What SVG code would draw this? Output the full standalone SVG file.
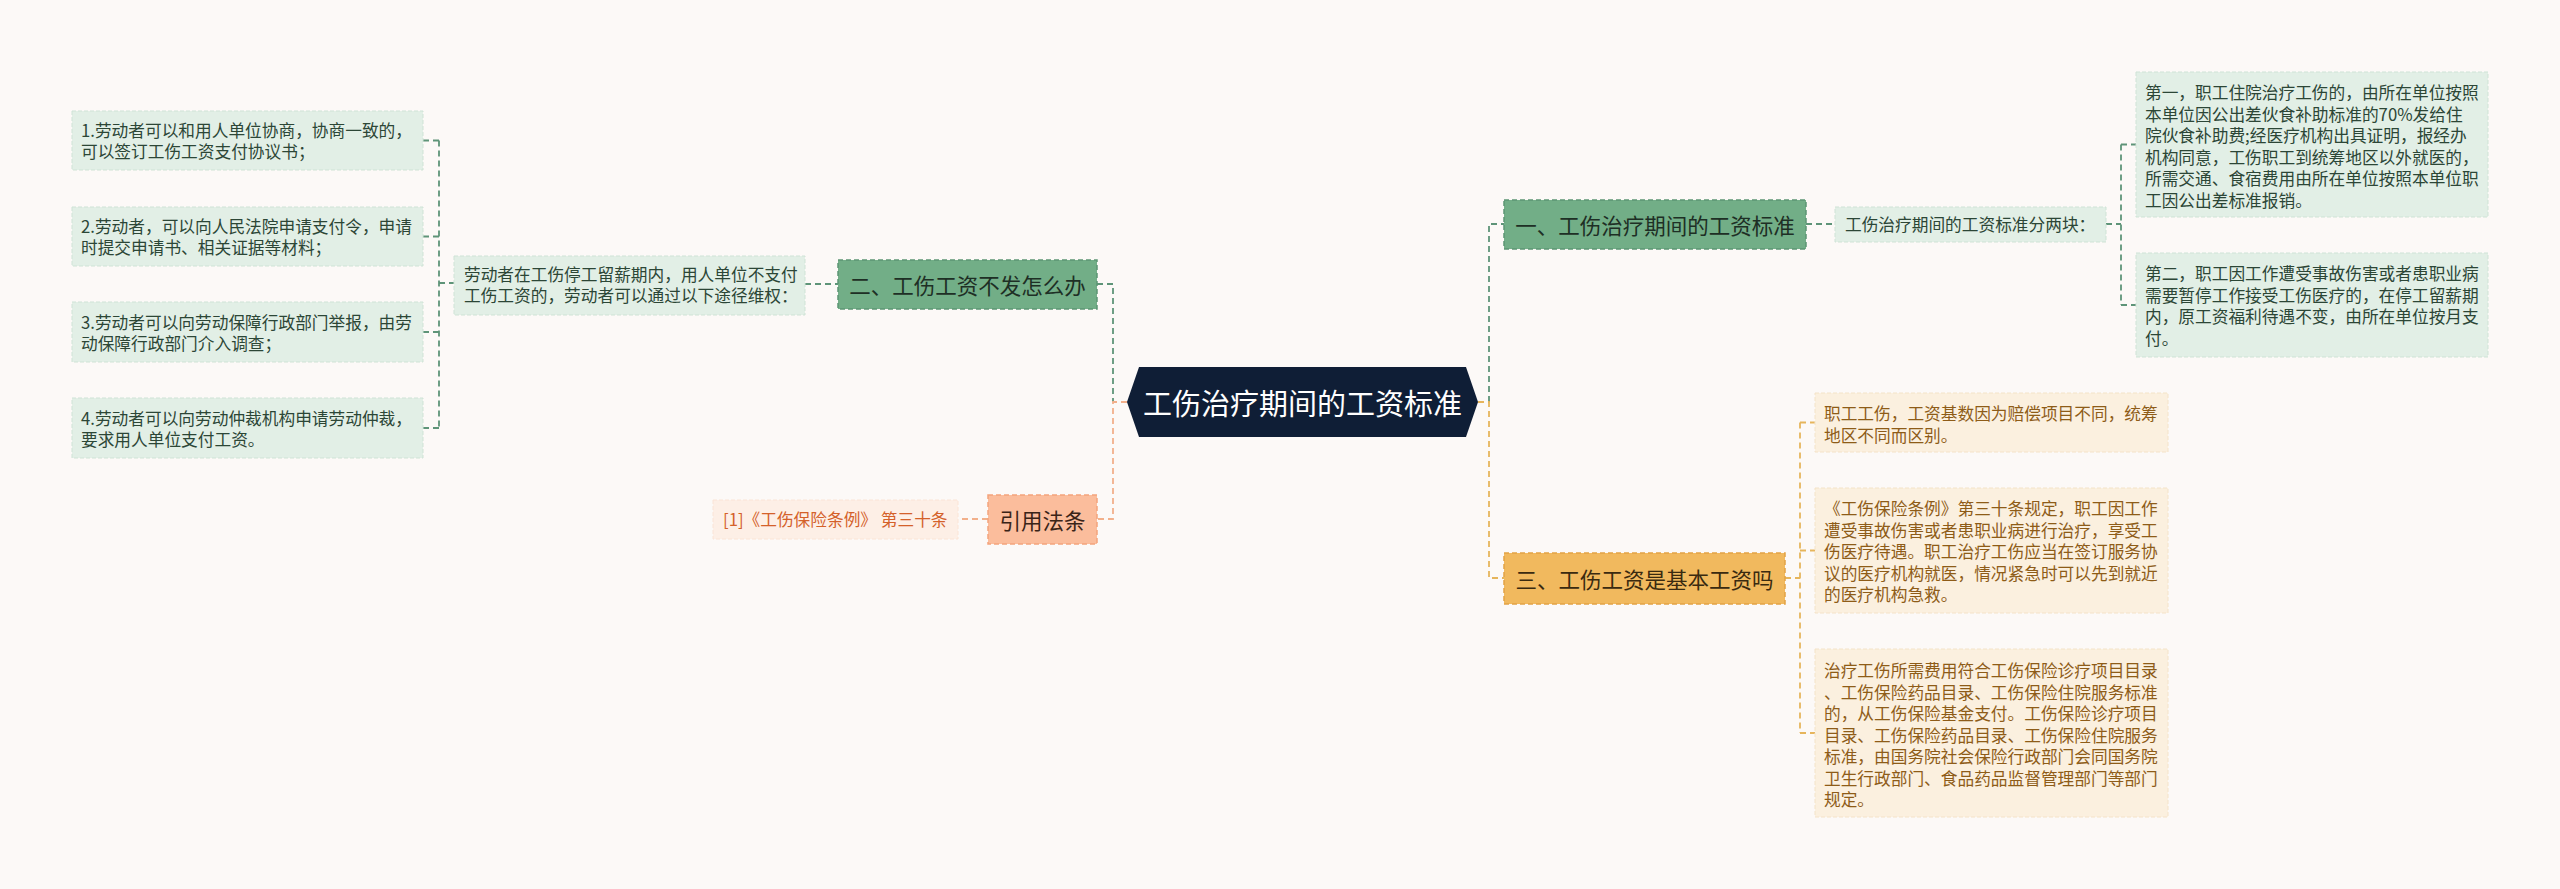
<svg xmlns="http://www.w3.org/2000/svg" width="2560" height="889" viewBox="0 0 2560 889">
<style>
text{font-family:"Noto Sans CJK SC","Noto Sans",sans-serif;dominant-baseline:central}
.s{font-size:16.7px}
.m{font-size:21.5px;text-anchor:middle}
.gl rect{fill:#e2efe6;stroke:#cfe3d6;stroke-width:1;stroke-dasharray:4 2}
.gl text{fill:#2c4636}
.gm rect{fill:#72ae87;stroke:#5c9574;stroke-width:1.5;stroke-dasharray:5 3}
.gm text{fill:#1e2f25}
.yl rect{fill:#fbf0df;stroke:#f4e3c8;stroke-width:1;stroke-dasharray:4 2}
.yl text{fill:#8e5c18}
.cg{fill:none;stroke:#5e9478;stroke-width:1.8;stroke-dasharray:6 4}
.co{fill:none;stroke:#f2b08b;stroke-width:1.8;stroke-dasharray:6 4}
.cy{fill:none;stroke:#e6b55c;stroke-width:1.8;stroke-dasharray:6 4}
</style>
<rect x="0" y="0" width="2560" height="889" fill="#fcf9f7"/>
<g id="connectors">
<path class="cg" d="M423 140.5H439M423 236.5H439M423 332H439M423 428H439M439 140.5V428M439 283H454"/>
<path class="cg" d="M805 284H838"/>
<path class="cg" d="M1097 284H1113V402"/>
<path class="co" d="M1127 402H1113V519H1097"/>
<path class="co" d="M988 519H958"/>
<path class="cg" d="M1489 402V224H1504"/>
<path class="cy" d="M1478 402H1489V578H1504"/>
<path class="cg" d="M1806 224H1835"/>
<path class="cg" d="M2106 224H2121M2121 144.5V305M2121 144.5H2136M2121 305H2136"/>
<path class="cy" d="M1785 578H1800M1800 422.5V733M1800 422.5H1815M1800 550.5H1815M1800 733H1815"/>
</g>
<g id="center">
<polygon points="1127,402 1139,367 1466,367 1478,402 1466,437 1139,437" fill="#0f1e36"/>
<text x="1302.5" y="402" font-size="29" fill="#ffffff" text-anchor="middle">工伤治疗期间的工资标准</text>
</g>
<g id="n-left1" class="gl">
<rect x="72" y="111" width="351" height="59"/>
<text class="s" x="81" y="130">1.劳动者可以和用人单位协商，协商一致的，</text>
<text class="s" x="81" y="151">可以签订工伤工资支付协议书；</text>
</g>
<g id="n-left2" class="gl">
<rect x="72" y="207" width="351" height="59"/>
<text class="s" x="81" y="226">2.劳动者，可以向人民法院申请支付令，申请</text>
<text class="s" x="81" y="247">时提交申请书、相关证据等材料；</text>
</g>
<g id="n-left3" class="gl">
<rect x="72" y="302" width="351" height="60"/>
<text class="s" x="81" y="322">3.劳动者可以向劳动保障行政部门举报，由劳</text>
<text class="s" x="81" y="343">动保障行政部门介入调查；</text>
</g>
<g id="n-left4" class="gl">
<rect x="72" y="398" width="351" height="60"/>
<text class="s" x="81" y="418">4.劳动者可以向劳动仲裁机构申请劳动仲裁，</text>
<text class="s" x="81" y="439">要求用人单位支付工资。</text>
</g>
<g id="n-way" class="gl">
<rect x="454" y="256" width="351" height="59"/>
<text class="s" x="464" y="274">劳动者在工伤停工留薪期内，用人单位不支付</text>
<text class="s" x="464" y="295">工伤工资的，劳动者可以通过以下途径维权：</text>
</g>
<g id="n-two" class="gm">
<rect x="838" y="260" width="259" height="49"/>
<text class="m" x="967.5" y="284">二、工伤工资不发怎么办</text>
</g>
<g id="n-law">
<rect x="988" y="495" width="109" height="49" fill="#fbbd9c" stroke="#f4a47c" stroke-width="1.5" stroke-dasharray="5 3"/>
<text class="m" x="1042.5" y="519" fill="#3a2418">引用法条</text>
</g>
<g id="n-law-ref">
<rect x="713" y="500" width="245" height="39" fill="#fdefe6" stroke="#fbe4d6" stroke-width="1" stroke-dasharray="4 2"/>
<text class="s" x="723" y="519" fill="#d4612a">[1]《工伤保险条例》 第三十条</text>
</g>
<g id="n-one" class="gm">
<rect x="1504" y="200" width="302" height="49"/>
<text class="m" x="1655" y="224">一、工伤治疗期间的工资标准</text>
</g>
<g id="n-one-sub" class="gl">
<rect x="1835" y="207" width="271" height="35"/>
<text class="s" x="1845" y="224">工伤治疗期间的工资标准分两块：</text>
</g>
<g id="n-first" class="gl">
<rect x="2136" y="72" width="352" height="145"/>
<text class="s" x="2145" y="92">第一，职工住院治疗工伤的，由所在单位按照</text>
<text class="s" x="2145" y="113.5">本单位因公出差伙食补助标准的70%发给住</text>
<text class="s" x="2145" y="135">院伙食补助费;经医疗机构出具证明，报经办</text>
<text class="s" x="2145" y="156.5">机构同意，工伤职工到统筹地区以外就医的，</text>
<text class="s" x="2145" y="178">所需交通、食宿费用由所在单位按照本单位职</text>
<text class="s" x="2145" y="199.5">工因公出差标准报销。</text>
</g>
<g id="n-second" class="gl">
<rect x="2136" y="253" width="352" height="104"/>
<text class="s" x="2145" y="273">第二，职工因工作遭受事故伤害或者患职业病</text>
<text class="s" x="2145" y="294.5">需要暂停工作接受工伤医疗的，在停工留薪期</text>
<text class="s" x="2145" y="316">内，原工资福利待遇不变，由所在单位按月支</text>
<text class="s" x="2145" y="337.5">付。</text>
</g>
<g id="n-three">
<rect x="1504" y="553" width="281" height="51" fill="#f1b95e" stroke="#e2a345" stroke-width="1.5" stroke-dasharray="5 3"/>
<text class="m" x="1644.5" y="578" fill="#3a2a10">三、工伤工资是基本工资吗</text>
</g>
<g id="n-base" class="yl">
<rect x="1815" y="393" width="353" height="59"/>
<text class="s" x="1824" y="413">职工工伤，工资基数因为赔偿项目不同，统筹</text>
<text class="s" x="1824" y="434.5">地区不同而区别。</text>
</g>
<g id="n-rule" class="yl">
<rect x="1815" y="488" width="353" height="125"/>
<text class="s" x="1824" y="508">《工伤保险条例》第三十条规定，职工因工作</text>
<text class="s" x="1824" y="529.5">遭受事故伤害或者患职业病进行治疗，享受工</text>
<text class="s" x="1824" y="551">伤医疗待遇。职工治疗工伤应当在签订服务协</text>
<text class="s" x="1824" y="572.5">议的医疗机构就医，情况紧急时可以先到就近</text>
<text class="s" x="1824" y="594">的医疗机构急救。</text>
</g>
<g id="n-cost" class="yl">
<rect x="1815" y="649" width="353" height="168"/>
<text class="s" x="1824" y="670">治疗工伤所需费用符合工伤保险诊疗项目目录</text>
<text class="s" x="1824" y="691.5">、工伤保险药品目录、工伤保险住院服务标准</text>
<text class="s" x="1824" y="713">的，从工伤保险基金支付。工伤保险诊疗项目</text>
<text class="s" x="1824" y="734.5">目录、工伤保险药品目录、工伤保险住院服务</text>
<text class="s" x="1824" y="756">标准，由国务院社会保险行政部门会同国务院</text>
<text class="s" x="1824" y="777.5">卫生行政部门、食品药品监督管理部门等部门</text>
<text class="s" x="1824" y="799">规定。</text>
</g>
</svg>
